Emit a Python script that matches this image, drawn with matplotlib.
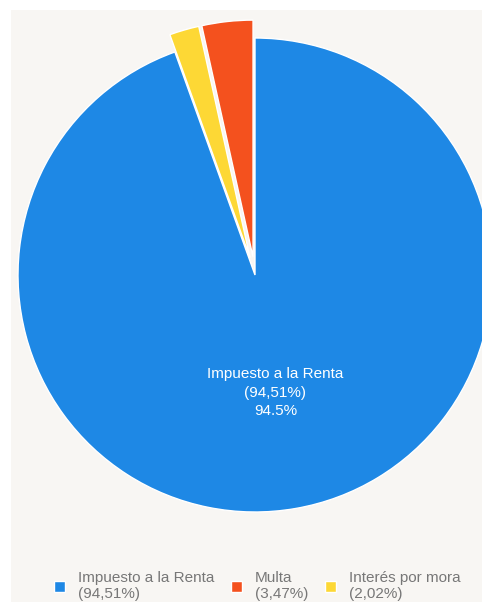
import math
import matplotlib
matplotlib.use("Agg")
import matplotlib.pyplot as plt
from matplotlib.patches import Rectangle

categories = ["Impuesto a la Renta", "Multa", "Interés por mora"]
values = [94.51, 3.47, 2.02]
pct_labels = ["(94,51%)", "(3,47%)", "(2,02%)"]
colors = ["#1E88E5", "#F4511E", "#FDD835"]
explode = [0, 18, 18]

plt.rcParams["font.family"] = ["Liberation Sans", "DejaVu Sans"]

W, H = 482, 602
fig = plt.figure(figsize=(W / 100, H / 100), dpi=100, facecolor="white")
fig.patches.append(Rectangle((11 / W, 0), 1 - 11 / W, (H - 10) / H,
                             transform=fig.transFigure, facecolor="#F8F6F3",
                             edgecolor="none", zorder=-10))

ax = fig.add_axes([0, 0, 1, 1])
ax.patch.set_visible(False)
cx, cy, r = 255, H - 275, 237
total = sum(values)
start = 90 - 360 * values[0] / total
wedges, _ = ax.pie(values, colors=colors, explode=explode, startangle=start,
                   counterclock=True, center=(cx, cy), radius=r,
                   wedgeprops=dict(edgecolor="white", linewidth=1.0))
ax.set_xlim(0, W)
ax.set_ylim(0, H)
ax.set_aspect("equal")
ax.axis("off")

w0 = wedges[0]
mid = math.radians((w0.theta1 + w0.theta2) / 2)
ax.text(cx + 0.5 * r * math.cos(mid), cy + 0.5 * r * math.sin(mid) - 1,
        f"{categories[0]}\n{pct_labels[0]}\n{values[0]:.1f}%",
        color="white", ha="center", va="center", fontsize=11,
        linespacing=1.4)

leg_labels = [f"{c}\n{p}" for c, p in zip(categories, pct_labels)]
leg = fig.legend(wedges, leg_labels, loc="lower center", ncol=3,
                 bbox_to_anchor=(0.534, -0.022), frameon=False, fontsize=11,
                 handlelength=0.72, handleheight=0.72, handletextpad=0.85,
                 columnspacing=1.1, labelcolor="#777777")
for t in leg.get_texts():
    t.set_linespacing(1.2)

fig.savefig("out.png", dpi=100, facecolor="white")
